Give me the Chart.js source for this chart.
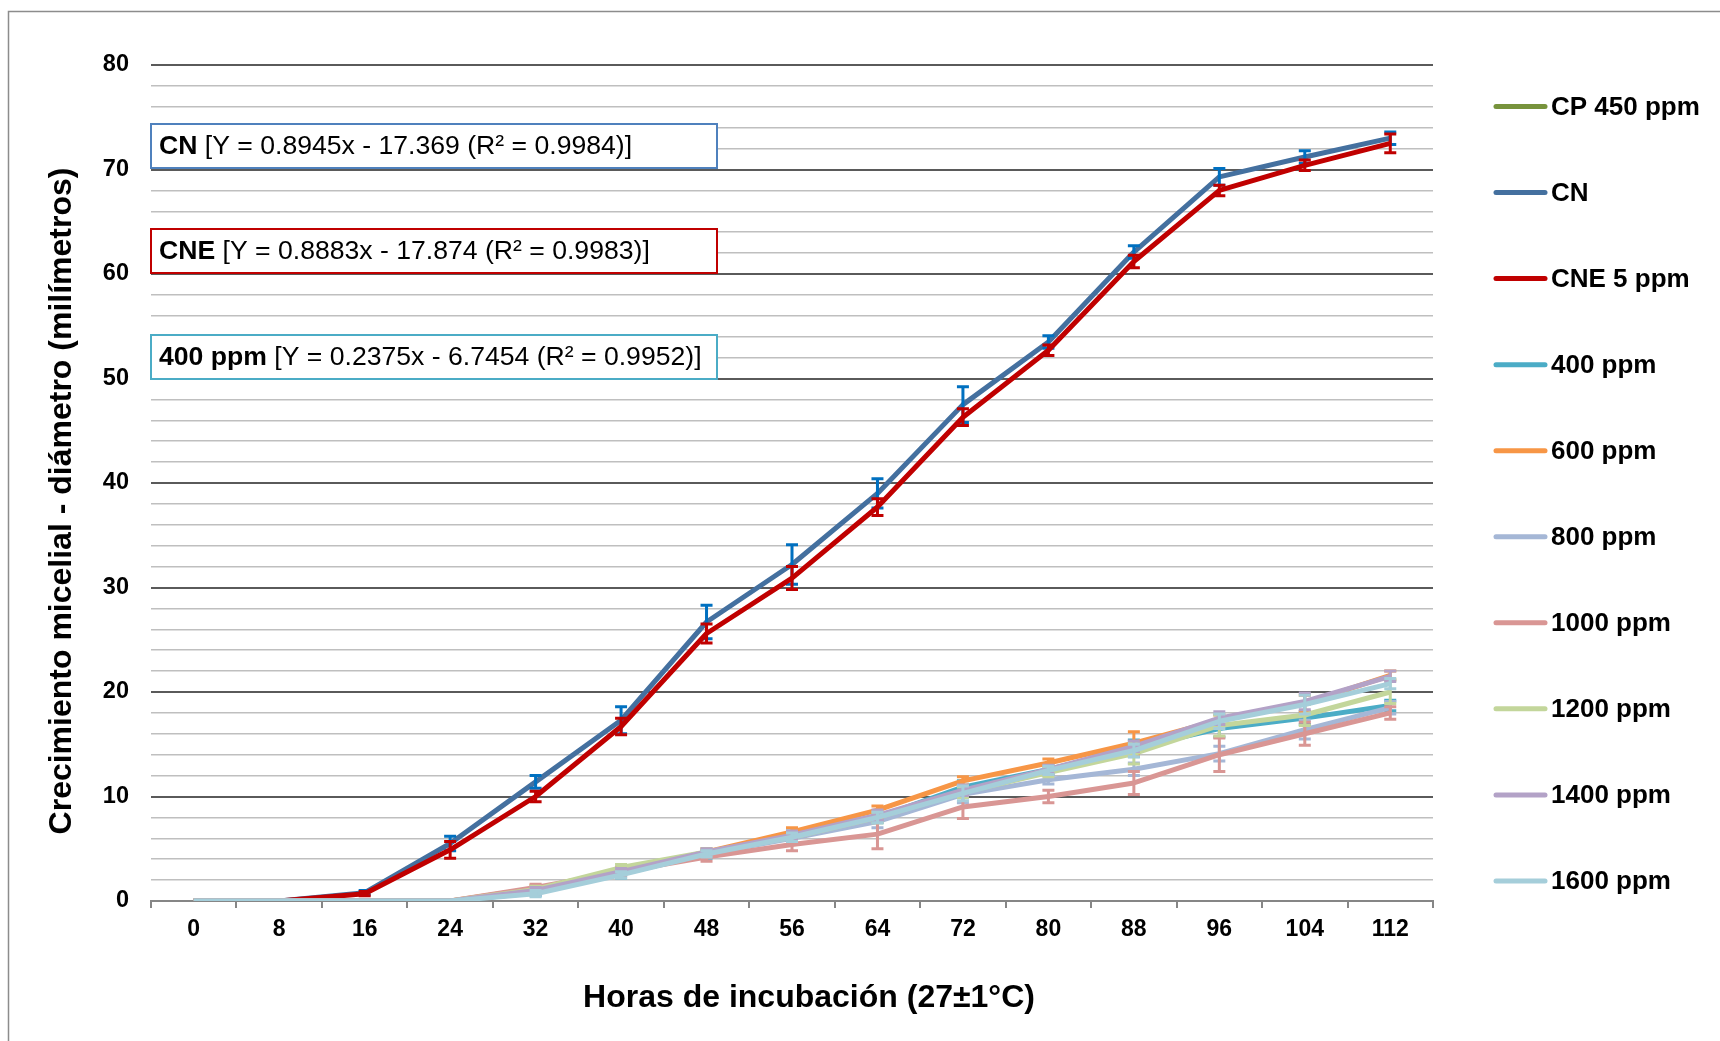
<!DOCTYPE html>
<html><head><meta charset="utf-8">
<script src="https://cdn.jsdelivr.net/npm/chart.js@4.4.1/dist/chart.umd.min.js"></script>
<style>html,body{margin:0;padding:0;background:#fff;} canvas{display:block;}</style>
</head><body>
<canvas id="c" width="1720" height="1041"></canvas>
<script>
const hours = ['0','8','16','24','32','40','48','56','64','72','80','88','96','104','112'];
const seriesNames = ['CP 450 ppm','CN','CNE 5 ppm','400 ppm','600 ppm','800 ppm','1000 ppm','1200 ppm','1400 ppm','1600 ppm'];
const seriesColors = ['#77933C','#44709F','#C00000','#4BACC6','#F79646','#A5B7D6','#D99694','#C3D69B','#B3A2C7','#A5CEDA'];
const errColors = ['#77933C','#0070C0','#C00000','#4BACC6','#F79646','#A5B7D6','#D99694','#C3D69B','#B3A2C7','#A5CEDA'];

const cp450   = [0,0,0,0,null,null,null,null,null,null,null,null,null,null,null];
const cn      = [0,0,0.8,5.5,11.4,17.3,26.7,32.2,39.0,47.5,53.5,62.1,69.3,71.2,73.0];
const cne     = [0,0,0.7,4.9,10.0,16.7,25.6,30.9,37.7,46.3,52.7,61.2,68.0,70.4,72.5];
const p400    = [0,0,0,0,0.8,2.6,4.5,6.2,8.0,10.9,12.6,14.6,16.5,17.5,18.7];
const p600    = [0,0,0,0,1.2,2.8,4.7,6.6,8.7,11.5,13.2,15.1,17.3,18.9,21.6];
const p800    = [0,0,0,0,0.9,2.7,4.5,6.0,7.6,10.2,11.6,12.6,14.1,16.4,18.5];
const p1000   = [0,0,0,0,1.3,2.8,4.2,5.4,6.4,9.0,10.0,11.3,14.0,16.0,18.0];
const p1200   = [0,0,0,0,1.1,3.2,4.7,6.1,8.0,10.4,12.3,14.1,16.8,17.8,20.0];
const p1400   = [0,0,0,0,1.0,2.8,4.7,6.3,8.2,10.6,12.6,14.8,17.5,19.1,21.5];
const p1600   = [0,0,0,0,0.7,2.5,4.5,6.1,8.0,10.3,12.5,14.4,17.2,18.8,20.8];

const cp450Err = [0,0,0,0,0,0,0,0,0,0,0,0,0,0,0];
const cnErr    = [0,0,0.2,0.7,0.6,1.3,1.6,1.9,1.4,1.7,0.6,0.6,0.8,0.6,0.6];
const cneErr   = [0,0,0.2,0.8,0.5,0.8,0.9,1.1,0.8,0.8,0.5,0.6,0.5,0.5,0.9];
const p400Err  = [0,0,0,0,0.3,0.4,0.4,0.5,0.5,0.6,0.5,0.8,0.8,0.6,0.5];
const p600Err  = [0,0,0,0,0.3,0.3,0.3,0.4,0.4,0.4,0.4,1.1,0.5,0.8,0.4];
const p800Err  = [0,0,0,0,0.3,0.3,0.3,0.4,0.6,0.8,0.4,0.6,0.7,0.9,0.6];
const p1000Err = [0,0,0,0,0.3,0.4,0.4,0.6,1.4,1.1,0.6,1.1,1.6,1.1,0.6];
const p1200Err = [0,0,0,0,0.3,0.3,0.3,0.4,0.5,0.5,0.4,1.0,1.0,1.0,1.1];
const p1400Err = [0,0,0,0,0.3,0.3,0.3,0.4,0.5,0.5,0.4,0.5,0.6,0.8,0.5];
const p1600Err = [0,0,0,0,0.3,0.3,0.3,0.4,0.5,0.7,0.4,0.6,0.7,0.9,0.5];

const yTitle = 'Crecimiento micelial - diámetro (milímetros)';
const xTitle = 'Horas de incubación (27±1°C)';
const equations = [
  {bold:'CN', text:' [Y = 0.8945x - 17.369 (R² = 0.9984)]', color:'#4F81BD'},
  {bold:'CNE', text:' [Y = 0.8883x - 17.874 (R² = 0.9983)]', color:'#C00000'},
  {bold:'400 ppm', text:' [Y = 0.2375x - 6.7454 (R² = 0.9952)]', color:'#4BACC6'}
];

const allValues = [cp450,cn,cne,p400,p600,p800,p1000,p1200,p1400,p1600];
const allErrs = [cp450Err,cnErr,cneErr,p400Err,p600Err,p800Err,p1000Err,p1200Err,p1400Err,p1600Err];
const FONT = "'Liberation Sans', Arial, Helvetica, sans-serif";
const N = seriesNames.length;

const datasets = seriesNames.map((name,i)=>({
  label:name,
  data: allValues[i],
  errors: allErrs[i],
  errColor: errColors[i],
  borderColor: seriesColors[i],
  backgroundColor: seriesColors[i],
  borderWidth: 5,
  pointRadius: 0,
  pointHoverRadius: 0,
  tension: 0,
  fill: false,
  spanGaps: false,
  borderJoinStyle: 'round',
  order: N - i
}));

const errorBarPlugin = {
  id:'errorBars',
  afterDatasetDraw(chart, args){
    const ds = chart.data.datasets[args.index];
    if(!ds.errors) return;
    const xs = chart.scales.x, ys = chart.scales.y;
    const ctx = chart.ctx;
    ctx.save();
    ctx.strokeStyle = ds.errColor;
    ctx.lineWidth = 3;
    ctx.lineCap = 'butt';
    ds.data.forEach((v,j)=>{
      const e = ds.errors[j];
      if(!e || v === null) return;
      const x = xs.getPixelForValue(j);
      const yt = ys.getPixelForValue(v+e);
      const yb = ys.getPixelForValue(Math.max(0,v-e));
      ctx.beginPath();
      ctx.moveTo(x,yt); ctx.lineTo(x,yb);
      ctx.moveTo(x-6,yt); ctx.lineTo(x+6,yt);
      ctx.moveTo(x-6,yb); ctx.lineTo(x+6,yb);
      ctx.stroke();
    });
    ctx.restore();
  }
};

const decorPlugin = {
  id:'decor',
  beforeDraw(chart){
    const ctx = chart.ctx;
    ctx.save();
    ctx.strokeStyle = '#8C8C8C';
    ctx.lineWidth = 1.5;
    ctx.beginPath();
    ctx.moveTo(8.5, 1041); ctx.lineTo(8.5, 11.5); ctx.lineTo(1720, 11.5);
    ctx.stroke();
    ctx.restore();
  },
  afterDraw(chart){
    const ctx = chart.ctx;
    const ca = chart.chartArea;
    ctx.save();
    // equation boxes
    const boxTops = [58, 163, 269];
    equations.forEach((eq,k)=>{
      const x0 = ca.left - 1, y0 = ca.top + boxTops[k], w = 568, h = 46;
      ctx.fillStyle = '#fff';
      ctx.fillRect(x0, y0, w, h);
      ctx.strokeStyle = eq.color;
      ctx.lineWidth = 2;
      ctx.strokeRect(x0+1, y0+1, w-2, h-2);
      ctx.textBaseline = 'middle';
      ctx.textAlign = 'left';
      ctx.fillStyle = '#000';
      ctx.font = 'bold 26.6px ' + FONT;
      const tx = x0 + 9, ty = y0 + h/2 + 1;
      ctx.fillText(eq.bold, tx, ty);
      const bw = ctx.measureText(eq.bold).width;
      ctx.font = '26.6px ' + FONT;
      ctx.fillText(eq.text, tx + bw, ty);
    });
    // legend
    chart.data.datasets.forEach((ds,i)=>{
      const y = 106.5 + i*86.05;
      ctx.strokeStyle = ds.borderColor;
      ctx.lineWidth = 5;
      ctx.lineCap = 'round';
      ctx.beginPath();
      ctx.moveTo(1496, y); ctx.lineTo(1545, y);
      ctx.stroke();
      ctx.fillStyle = '#000';
      ctx.font = 'bold 26px ' + FONT;
      ctx.textBaseline = 'middle';
      ctx.textAlign = 'left';
      ctx.fillText(ds.label, 1551, y+1);
    });
    // axis titles
    ctx.font = 'bold 32px ' + FONT;
    ctx.fillStyle = '#000';
    ctx.textAlign = 'center';
    ctx.textBaseline = 'middle';
    ctx.fillText(xTitle, 809, 998);
    ctx.translate(62, 501);
    ctx.rotate(-Math.PI/2);
    ctx.fillText(yTitle, 0, 0);
    ctx.restore();
  }
};

new Chart(document.getElementById('c'), {
  type:'line',
  data:{ labels: hours, datasets },
  options:{
    responsive:false,
    animation:false,
    devicePixelRatio:1,
    layout:{ padding:{ left:0, top:65, right:287, bottom:0 } },
    plugins:{ legend:{display:false}, tooltip:{enabled:false}, title:{display:false} },
    scales:{
      x:{
        type:'category',
        offset:true,
        grid:{ offset:true, drawOnChartArea:false, drawTicks:true, tickLength:7, color:'#868686', lineWidth:2 },
        border:{ display:true, color:'#868686', width:2 },
        ticks:{ font:{family:FONT, size:23, weight:'bold'}, color:'#000', padding:8, maxRotation:0, autoSkip:false },
        afterFit(s){ s.height = 140; }
      },
      y:{
        min:0, max:80,
        ticks:{ stepSize:2, autoSkip:false, callback:(v)=> (v%10===0 ? String(v) : ''), font:{family:FONT, size:23.5, weight:'bold'}, color:'#000', padding:22 },
        grid:{ drawTicks:false,
          color:(c)=> (c.tick && c.tick.value%10===0) ? '#5A5A5A' : '#BFBFBF',
          lineWidth:(c)=> (c.tick && c.tick.value%10===0) ? 2 : 1.5 },
        border:{ display:false },
        afterFit(s){ s.width = 151; }
      }
    }
  },
  plugins:[errorBarPlugin, decorPlugin]
});
</script>
</body></html>
